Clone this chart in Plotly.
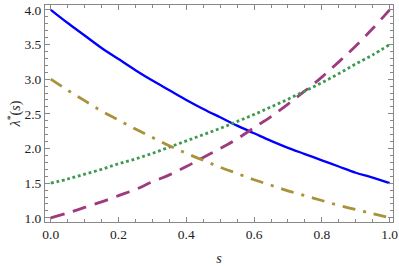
import plotly.graph_objects as go

s_vals = [0.0, 0.05, 0.1, 0.15, 0.2, 0.25, 0.3, 0.35, 0.4, 0.45, 0.5,
          0.55, 0.6, 0.65, 0.7, 0.75, 0.8, 0.85, 0.9, 0.95, 1.0]
blue_solid = [4.00, 3.81, 3.63, 3.45, 3.29, 3.13, 2.98, 2.84, 2.70, 2.57, 2.45,
              2.33, 2.22, 2.11, 2.01, 1.92, 1.83, 1.74, 1.65, 1.58, 1.50]
purple_dashed = [1.00, 1.07, 1.15, 1.23, 1.32, 1.41, 1.52, 1.62, 1.74, 1.87, 2.00,
                 2.14, 2.30, 2.46, 2.64, 2.83, 3.03, 3.25, 3.48, 3.73, 4.00]
green_dotted = [1.50, 1.56, 1.63, 1.70, 1.78, 1.85, 1.93, 2.02, 2.11, 2.20, 2.29,
                2.39, 2.49, 2.60, 2.71, 2.83, 2.95, 3.08, 3.22, 3.35, 3.50]
olive_dashdot = [3.00, 2.84, 2.69, 2.54, 2.41, 2.28, 2.16, 2.04, 1.93, 1.83, 1.73,
                 1.64, 1.55, 1.47, 1.39, 1.32, 1.25, 1.18, 1.12, 1.06, 1.00]

x_ticks = [0.0, 0.2, 0.4, 0.6, 0.8, 1.0]
x_labels = ["0.0", "0.2", "0.4", "0.6", "0.8", "1.0"]
y_ticks = [1.0, 1.5, 2.0, 2.5, 3.0, 3.5, 4.0]
y_labels = ["1.0", "1.5", "2.0", "2.5", "3.0", "3.5", "4.0"]

SERIF = "Liberation Serif, Times New Roman, serif"

fig = go.Figure()
fig.add_trace(go.Scatter(x=s_vals, y=blue_solid, mode="lines", line_shape="spline",
                         line=dict(color="#0000FF", width=2.3, dash="solid")))
fig.add_trace(go.Scatter(x=s_vals, y=purple_dashed, mode="lines", line_shape="spline",
                         line=dict(color="#9E3A7E", width=2.8, dash="14px,9px")))
fig.add_trace(go.Scatter(x=s_vals, y=green_dotted, mode="lines", line_shape="spline",
                         line=dict(color="#3A9A4F", width=2.8, dash="2.8px,2.8px")))
fig.add_trace(go.Scatter(x=s_vals, y=olive_dashdot, mode="lines", line_shape="spline",
                         line=dict(color="#A8923A", width=2.8, dash="13px,8px,3px,8px")))

axis_common = dict(
    showgrid=False, zeroline=False, showline=True, linecolor="#888888", linewidth=1,
    mirror="ticks", ticks="inside", tickcolor="#888888", ticklen=5, tickwidth=1,
    tickfont=dict(family=SERIF, size=13.5, color="#222222"), automargin=False,
    ticklabeloverflow="allow",
)

fig.update_xaxes(range=[-0.017, 1.01], tickvals=x_ticks, ticktext=x_labels,
                 minor=dict(dtick=0.05, ticks="inside", ticklen=3, tickcolor="#888888"),
                 title=dict(text="<i>s</i>", font=dict(family=SERIF, size=14, color="#222222"),
                            standoff=12),
                 **axis_common)
fig.update_yaxes(range=[0.94, 4.07], tickvals=y_ticks, ticktext=y_labels,
                 minor=dict(dtick=0.1, ticks="inside", ticklen=3, tickcolor="#888888"),
                 title=dict(text="<i>λ</i><sup>*</sup>(<i>s</i>)",
                            font=dict(family=SERIF, size=14, color="#222222"),
                            standoff=0),
                 **axis_common)

fig.update_layout(
    width=399, height=266,
    margin=dict(l=45, r=6, t=5, b=44, autoexpand=False),
    paper_bgcolor="white", plot_bgcolor="white",
    font=dict(family=SERIF, size=13, color="#222222"),
    showlegend=False,
)

fig.write_html("out.html", config={"displayModeBar": False, "staticPlot": True},
               post_script="document.body.style.margin='0';document.body.style.overflow='hidden';")
